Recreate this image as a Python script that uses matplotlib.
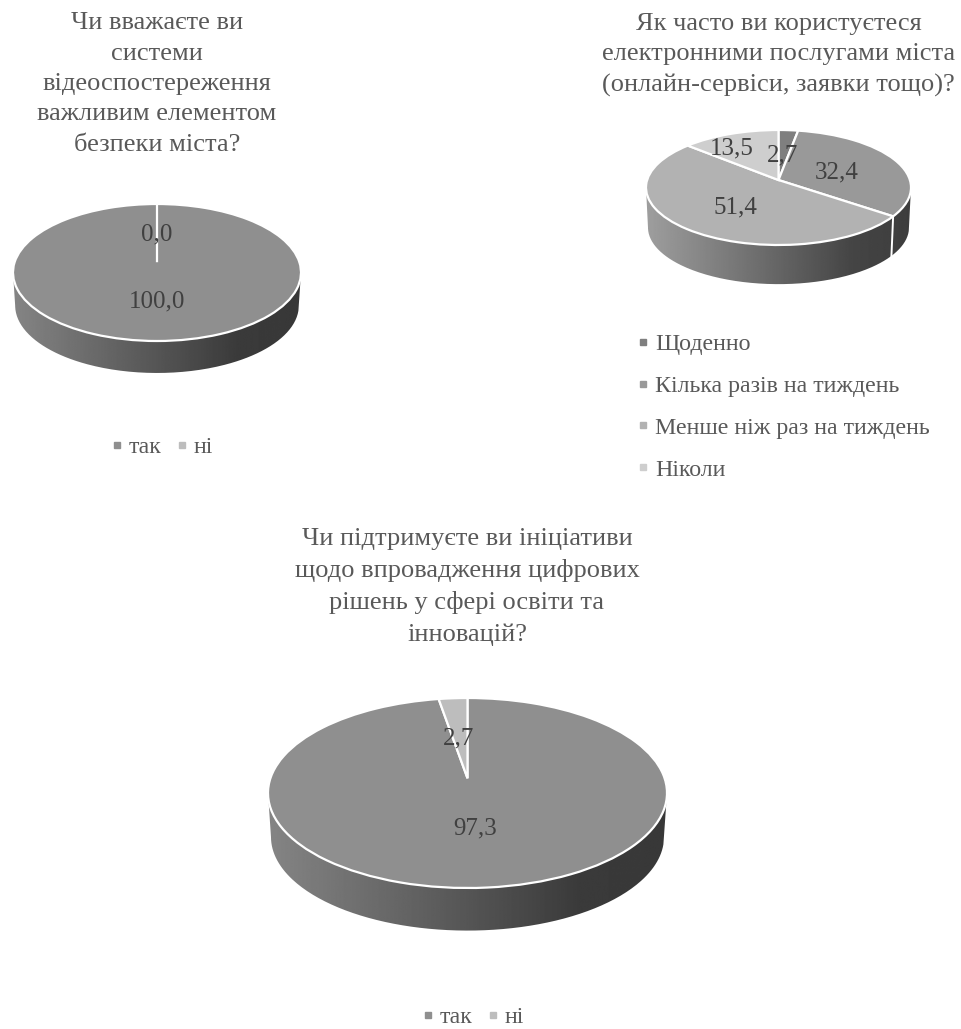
import numpy as np
import matplotlib
matplotlib.use('Agg')
from matplotlib import pyplot as plt
from matplotlib.lines import Line2D
from matplotlib.patches import PathPatch
from matplotlib.path import Path
from matplotlib.transforms import Transform

plt.rcParams['font.family'] = ['Liberation Serif', 'DejaVu Serif']

W, H = 962, 1029
TEXT = '#595959'
LABEL = '#404040'

# data
titles = ['Чи вважаєте ви\nсистеми\nвідеоспостереження\nважливим елементом\nбезпеки міста?',
          'Як часто ви користуєтеся\nелектронними послугами міста\n(онлайн-сервіси, заявки тощо)?',
          'Чи підтримуєте ви ініціативи\nщодо впровадження цифрових\nрішень у сфері освіти та\nінновацій?']
legend_a = ['так', 'ні']
legend_b = ['Щоденно', 'Кілька разів на тиждень', 'Менше ніж раз на тиждень', 'Ніколи']
video_values = [100.0, 0.0]
online_values = [2.7, 32.4, 51.4, 13.5]
digital_values = [97.3, 2.7]
colors_a = ['#8f8f8f', '#bdbdbd']
colors_b = ['#7f7f7f', '#999999', '#b2b2b2', '#cecece']


class Perspective(Transform):
    # tilted disc: the unit circle goes to the unit square's ellipse, centre moves up
    input_dims = 2
    output_dims = 2

    def __init__(self, k):
        super().__init__()
        self.k = k

    def transform_non_affine(self, xy):
        xy = np.asarray(xy, dtype=float)
        k = self.k
        d = 1 + k * xy[:, 1]
        q = 1 - k * k
        return np.column_stack((xy[:, 0] / d * np.sqrt(q), (xy[:, 1] / d + k / q) * q))


def px(x, y):
    return x / W, 1 - y / H


def draw_pie(box, depth, values, colors, k, shade, label_px):
    x0, y0, x1, y1 = box
    ry = (y1 - y0) / 2
    d = depth / ry
    ax = fig.add_axes([x0 / W, 1 - (y1 + depth) / H, (x1 - x0) / W, (y1 - y0 + depth) / H])
    wedges, _ = ax.pie(values, colors=colors, startangle=90, counterclock=False,
                       wedgeprops={'edgecolor': 'white', 'linewidth': 1.6})
    persp = Perspective(k)

    # side wall
    t = np.linspace(np.pi, 2 * np.pi, 200)
    low = 0.985
    xs = np.r_[np.cos(t), low * np.cos(t[::-1])]
    ys = np.r_[np.sin(t), low * np.sin(t[::-1]) - d]
    wall = Path(np.column_stack((xs, ys)), closed=False)
    grad = np.interp(np.linspace(0, 1, 300), [0, 0.78, 1], shade)
    im = ax.imshow(grad[None, :], cmap='gray', vmin=0, vmax=1, aspect='auto',
                   extent=(-1, 1, -1 - d, 1), zorder=0)
    im.set_clip_path(PathPatch(wall, transform=ax.transData))

    for w in wedges:
        w.set_transform(persp + ax.transData)
        w.set_clip_on(False)
        w.set_zorder(2)

    # seams on the wall where a slice border comes round the front
    a = np.deg2rad(np.cumsum(values) / np.sum(values) * 360)
    edge = persp.transform_non_affine(np.column_stack((np.sin(a), np.cos(a))))
    for ex, ey in edge:
        if ey < -0.05 and abs(ex) < 0.99:
            ax.plot([ex, ex * low], [ey, ey - d], color='white', lw=1.4, zorder=1)

    ax.set_xlim(-1, 1)
    ax.set_ylim(-1 - d, 1)
    ax.set_aspect('auto')

    for v, (lx, ly) in zip(values, label_px):
        fig.text(*px(lx, ly), f'{v:.1f}'.replace('.', ','), ha='center', va='center',
                 fontsize=18, color=LABEL, zorder=5)


def marker(c):
    return Line2D([], [], ls='none', marker='s', ms=4.2, mfc=c, mec=c)


fig = plt.figure(figsize=(W / 100, H / 100), dpi=100, facecolor='white')

draw_pie((13, 204, 301, 341), 33, video_values, colors_a, 0.15, [0.52, 0.23, 0.22],
         [(157, 301), (157, 234)])
draw_pie((646, 130, 911, 245), 40, online_values, colors_b, 0.13, [0.62, 0.27, 0.24],
         [(783, 155), (837, 172), (735, 207), (732, 148)])
draw_pie((268, 698, 667, 888), 44, digital_values, colors_a, 0.155, [0.52, 0.23, 0.22],
         [(475, 828), (459, 738)])

fig.text(*px(157, 84), titles[0], ha='center', va='center', fontsize=19, color=TEXT, linespacing=1.5)
fig.text(*px(778.5, 55), titles[1], ha='center', va='center', fontsize=19, color=TEXT, linespacing=1.5)
fig.text(*px(467, 587), titles[2], ha='center', va='center', fontsize=19, color=TEXT, linespacing=1.5)

for anchor, labels, cols in [((162, 447), legend_a, colors_a), ((473, 1017), legend_a, colors_a)]:
    fig.legend([marker(c) for c in cols], labels, loc='center', bbox_to_anchor=px(*anchor),
               ncol=2, frameon=False, fontsize=17.2, labelcolor=TEXT, handlelength=0.5,
               handletextpad=0.25, columnspacing=0.6)
fig.legend([marker(c) for c in colors_b], legend_b, loc='center left', bbox_to_anchor=px(615.5, 407),
           frameon=False, fontsize=17.2, labelcolor=TEXT, handlelength=0.5,
           handletextpad=0.25, labelspacing=0.84)

fig.savefig('out.png', dpi=100)
